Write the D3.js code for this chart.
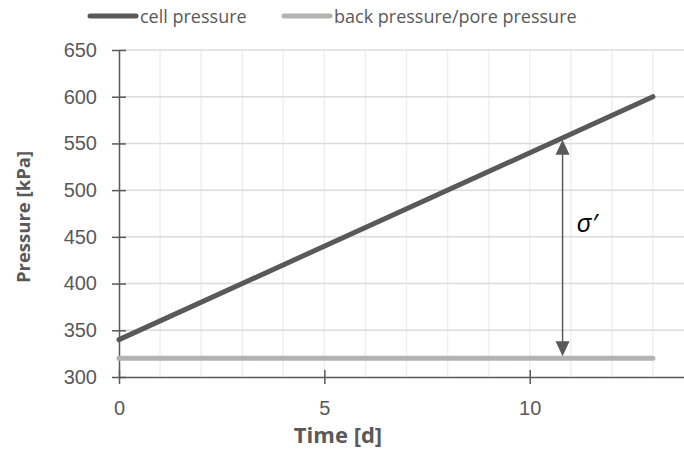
<!DOCTYPE html>
<html>
<head>
<meta charset="utf-8">
<script src="https://cdn.jsdelivr.net/npm/d3@7"></script>
<style>
  body { margin: 0; background: #fff; }
  svg { display: block; font-family: "Open Sans", sans-serif; }
</style>
</head>
<body>
<svg id="chart" width="684" height="450"></svg>
<script>
// data
var time = [0, 13];
var cellPressure = [340, 600];
var backPressure = [320, 320];
var seriesNames = ["cell pressure", "back pressure/pore pressure"];
var seriesColors = ["#595959", "#b3b3b3"];
var yTicks = [300, 350, 400, 450, 500, 550, 600, 650];
var xTicks = [0, 5, 10];
var arrowTime = 10.8;

var svg = d3.select("#chart");
var textColor = "#595959";

var x = d3.scaleLinear().domain([0, 14]).range([119, 694]);
var y = d3.scaleLinear().domain([300, 650]).range([377, 50]);

/* grid */
var grid = svg.append("g");
grid.selectAll(".vgrid").data(d3.range(1, 14)).enter().append("line")
  .attr("x1", function (d) { return x(d); }).attr("x2", function (d) { return x(d); })
  .attr("y1", y(650)).attr("y2", y(300))
  .attr("stroke", "#efefef").attr("stroke-width", 1.5);
grid.selectAll(".hgrid").data(yTicks.slice(1)).enter().append("line")
  .attr("x1", x(0)).attr("x2", 684)
  .attr("y1", function (d) { return y(d); }).attr("y2", function (d) { return y(d); })
  .attr("stroke", "#dcdcdc").attr("stroke-width", 1.5);

/* axes */
var yAxis = svg.append("g").attr("transform", "translate(" + x(0) + ",0)")
  .call(d3.axisLeft(y).tickValues(yTicks).tickSize(0).tickPadding(22));
var xAxis = svg.append("g").attr("transform", "translate(0," + y(300) + ")")
  .call(d3.axisBottom(x).tickValues(xTicks).tickSize(0).tickPadding(24));
[yAxis, xAxis].forEach(function (a) {
  a.select(".domain").attr("stroke", textColor).attr("stroke-width", 1.5);
  a.selectAll("text").attr("fill", textColor).style("font-size", "20px");
});
yAxis.selectAll(".tick").append("line")
  .attr("x1", -7).attr("x2", 7).attr("stroke", textColor).attr("stroke-width", 1.5);
xAxis.selectAll(".tick").append("line")
  .attr("y1", -7).attr("y2", 7).attr("stroke", textColor).attr("stroke-width", 1.5);

/* series */
var line = d3.line()
  .x(function (d) { return x(d[0]); })
  .y(function (d) { return y(d[1]); });
[backPressure, cellPressure].forEach(function (vals, i) {
  var k = i === 0 ? 1 : 0;
  svg.append("path")
    .datum(d3.zip(time, vals))
    .attr("d", line)
    .attr("fill", "none")
    .attr("stroke", seriesColors[k])
    .attr("stroke-width", 5)
    .attr("stroke-linecap", "round");
});

/* effective stress arrow */
var cellAt = d3.scaleLinear().domain(time).range(cellPressure);
var ax = x(arrowTime), yTop = y(cellAt(arrowTime)), yBot = y(backPressure[0]);
svg.append("line")
  .attr("x1", ax).attr("x2", ax)
  .attr("y1", yTop + 10).attr("y2", yBot - 10)
  .attr("stroke", textColor).attr("stroke-width", 1.5);
svg.append("path")
  .attr("d", "M" + ax + "," + (yTop + 2) + "l-7,15h14z")
  .attr("fill", textColor);
svg.append("path")
  .attr("d", "M" + ax + "," + (yBot - 2) + "l-7,-15h14z")
  .attr("fill", textColor);
svg.append("text")
  .attr("x", ax + 14).attr("y", 232)
  .style("font-size", "26px").style("font-style", "italic")
  .attr("fill", "#000")
  .text("σ′");

/* axis titles */
svg.append("text")
  .attr("x", 338).attr("y", 443)
  .attr("text-anchor", "middle")
  .style("font-size", "22px").style("font-weight", "bold")
  .attr("fill", textColor)
  .text("Time [d]");
svg.append("text")
  .attr("transform", "translate(30,217) rotate(-90)")
  .attr("text-anchor", "middle")
  .style("font-size", "18.5px").style("font-weight", "bold")
  .attr("fill", textColor)
  .text("Pressure [kPa]");

/* legend */
var legendX = [88, 282];
var legend = svg.selectAll(".legend").data(seriesNames).enter().append("g")
  .attr("transform", function (d, i) { return "translate(" + legendX[i] + ",16)"; });
legend.append("line")
  .attr("x1", 2).attr("x2", 48)
  .attr("stroke", function (d, i) { return seriesColors[i]; })
  .attr("stroke-width", 5).attr("stroke-linecap", "round");
legend.append("text")
  .attr("x", 52).attr("y", 6.5)
  .style("font-size", "18px")
  .attr("fill", textColor)
  .text(function (d) { return d; });
</script>
</body>
</html>
